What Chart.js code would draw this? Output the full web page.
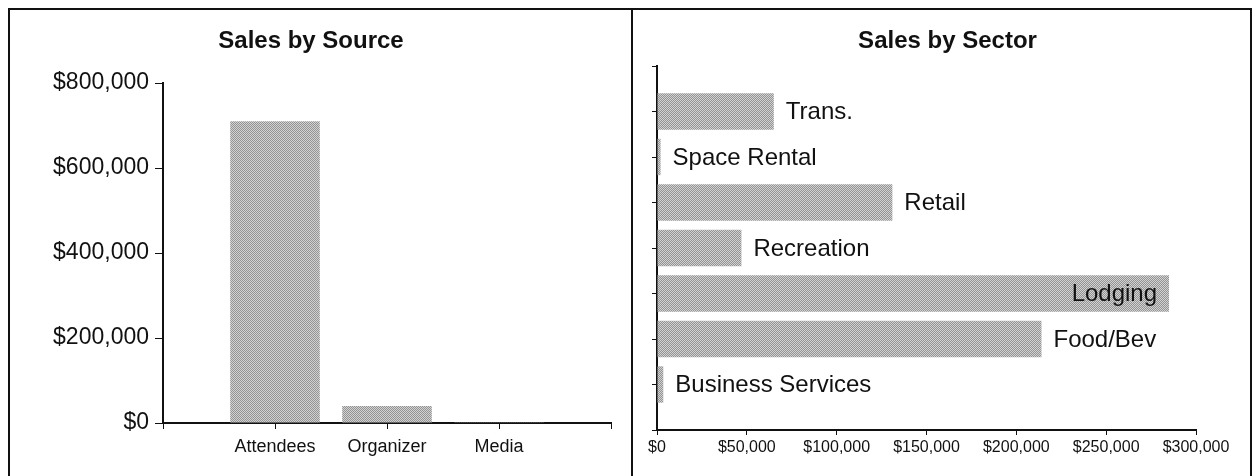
<!DOCTYPE html>
<html>
<head>
<meta charset="utf-8">
<script src="https://cdn.jsdelivr.net/npm/chart.js@4.4.1/dist/chart.umd.min.js"></script>
<style>
  html, body { margin: 0; padding: 0; background: #fff; }
  body { width: 1254px; height: 476px; position: relative; overflow: hidden; }
  .panel { position: absolute; top: 8px; height: 480px; border: 2px solid #111; box-sizing: border-box; }
  #p1 { left: 8px; width: 625px; }
  #p2 { left: 631px; width: 621px; }
  canvas { position: absolute; }
  #c1 { left: 10px; top: 10px; }
  #c2 { left: 633px; top: 10px; }
</style>
</head>
<body>
<div class="panel" id="p1"></div>
<div class="panel" id="p2"></div>
<canvas id="c1" width="620" height="466"></canvas>
<canvas id="c2" width="617" height="466"></canvas>
<script>
// Sales by source
const sources = ['Attendees', 'Organizer', 'Media'];
const sourceSales = [710000, 40000, 1500];
const sourceTicks = [0, 200000, 400000, 600000, 800000];

// Sales by sector (top to bottom)
const sectors = ['Trans.', 'Space Rental', 'Retail', 'Recreation', 'Lodging', 'Food/Bev', 'Business Services'];
const sectorSales = [65000, 2000, 131000, 47000, 285000, 214000, 3500];
const sectorTicks = [0, 50000, 100000, 150000, 200000, 250000, 300000];

const FONT = '"Liberation Sans", Arial, sans-serif';
const money = v => '$' + Number(v).toLocaleString('en-US');

// halftone-like grey fill for the bars
function dither() {
  const c = document.createElement('canvas');
  c.width = 2; c.height = 2;
  const g = c.getContext('2d');
  g.fillStyle = '#d2d2d2'; g.fillRect(0, 0, 2, 2);
  g.fillStyle = '#939393'; g.fillRect(0, 0, 1, 1); g.fillRect(1, 1, 1, 1);
  return g.createPattern(c, 'repeat');
}
const barFill = dither();

// panel heading
const panelTitle = {
  id: 'panelTitle',
  afterDraw(chart, args, opts) {
    const ctx = chart.ctx;
    ctx.save();
    ctx.font = 'bold 24px ' + FONT;
    ctx.fillStyle = '#111';
    ctx.textAlign = 'center';
    ctx.textBaseline = 'middle';
    ctx.fillText(opts.text, chart.width / 2 + (opts.dx || 0), opts.y);
    ctx.restore();
  }
};

// sector names written next to each bar (inside the bar when it would overflow)
const barNames = {
  id: 'barNames',
  afterDatasetsDraw(chart) {
    const ctx = chart.ctx;
    const meta = chart.getDatasetMeta(0);
    const area = chart.chartArea;
    ctx.save();
    ctx.font = '24px ' + FONT;
    ctx.fillStyle = '#111';
    ctx.textBaseline = 'middle';
    meta.data.forEach((el, i) => {
      const v = chart.data.datasets[0].data[i];
      if (v === null || v === undefined) return;
      const text = chart.data.labels[i];
      const w = ctx.measureText(text).width;
      if (el.x + 12 + w > area.right) {
        ctx.textAlign = 'right';
        ctx.fillText(text, el.x - 12, el.y + 1);
      } else {
        ctx.textAlign = 'left';
        ctx.fillText(text, el.x + 12, el.y + 1);
      }
    });
    ctx.restore();
  }
};

Chart.defaults.font.family = FONT;
Chart.defaults.color = '#111';
Chart.defaults.animation = false;

// categories sit between empty end slots so the axis runs one slot past each side
new Chart(document.getElementById('c1'), {
  type: 'bar',
  data: {
    labels: ['', ...sources, ''],
    datasets: [{
      data: [null, ...sourceSales, null],
      backgroundColor: barFill,
      borderWidth: 0,
      categoryPercentage: 0.8,
      barPercentage: 1
    }]
  },
  options: {
    responsive: false,
    layout: { padding: { top: 73, right: 19, left: 0, bottom: 0 } },
    plugins: {
      legend: { display: false },
      tooltip: { enabled: false },
      panelTitle: { text: 'Sales by Source', y: 31, dx: -9 }
    },
    scales: {
      x: {
        type: 'category',
        offset: false,
        grid: { display: true, offset: false, drawOnChartArea: false, drawTicks: true, tickLength: 6, color: '#111' },
        border: { display: true, color: '#111', width: 2 },
        ticks: { autoSkip: false, maxRotation: 0, padding: 7, font: { size: 18 }, color: '#111' },
        afterFit: s => { s.height = 53; }
      },
      y: {
        type: 'linear',
        min: sourceTicks[0],
        max: sourceTicks[sourceTicks.length - 1],
        afterBuildTicks: s => { s.ticks = sourceTicks.map(v => ({ value: v })); },
        grid: { display: true, drawOnChartArea: false, drawTicks: true, tickLength: 8, color: '#111' },
        border: { display: true, color: '#111', width: 2 },
        ticks: { padding: 6, font: { size: 23 }, color: '#111', callback: money },
        afterFit: s => { s.width = 153; }
      }
    }
  },
  plugins: [panelTitle]
});

new Chart(document.getElementById('c2'), {
  type: 'bar',
  data: {
    labels: ['', ...sectors, ''],
    datasets: [{
      data: [null, ...sectorSales, null],
      backgroundColor: barFill,
      borderWidth: 0,
      categoryPercentage: 0.8,
      barPercentage: 1
    }]
  },
  options: {
    indexAxis: 'y',
    responsive: false,
    layout: { padding: { top: 56, right: 54, left: 0, bottom: 0 } },
    plugins: {
      legend: { display: false },
      tooltip: { enabled: false },
      panelTitle: { text: 'Sales by Sector', y: 31, dx: 6 }
    },
    scales: {
      x: {
        type: 'linear',
        min: sectorTicks[0],
        max: sectorTicks[sectorTicks.length - 1],
        afterBuildTicks: s => { s.ticks = sectorTicks.map(v => ({ value: v })); },
        grid: { display: true, drawOnChartArea: false, drawTicks: true, tickLength: 5, color: '#111' },
        border: { display: true, color: '#111', width: 2 },
        ticks: { padding: 3, maxRotation: 0, font: { size: 16 }, color: '#111', callback: money },
        afterFit: s => { s.height = 46; }
      },
      y: {
        type: 'category',
        offset: false,
        grid: { display: true, offset: false, drawOnChartArea: false, drawTicks: true, tickLength: 5, color: '#111' },
        border: { display: true, color: '#111', width: 2 },
        ticks: { display: false, autoSkip: false },
        afterFit: s => { s.width = 24; }
      }
    }
  },
  plugins: [panelTitle, barNames]
});
</script>
</body>
</html>
